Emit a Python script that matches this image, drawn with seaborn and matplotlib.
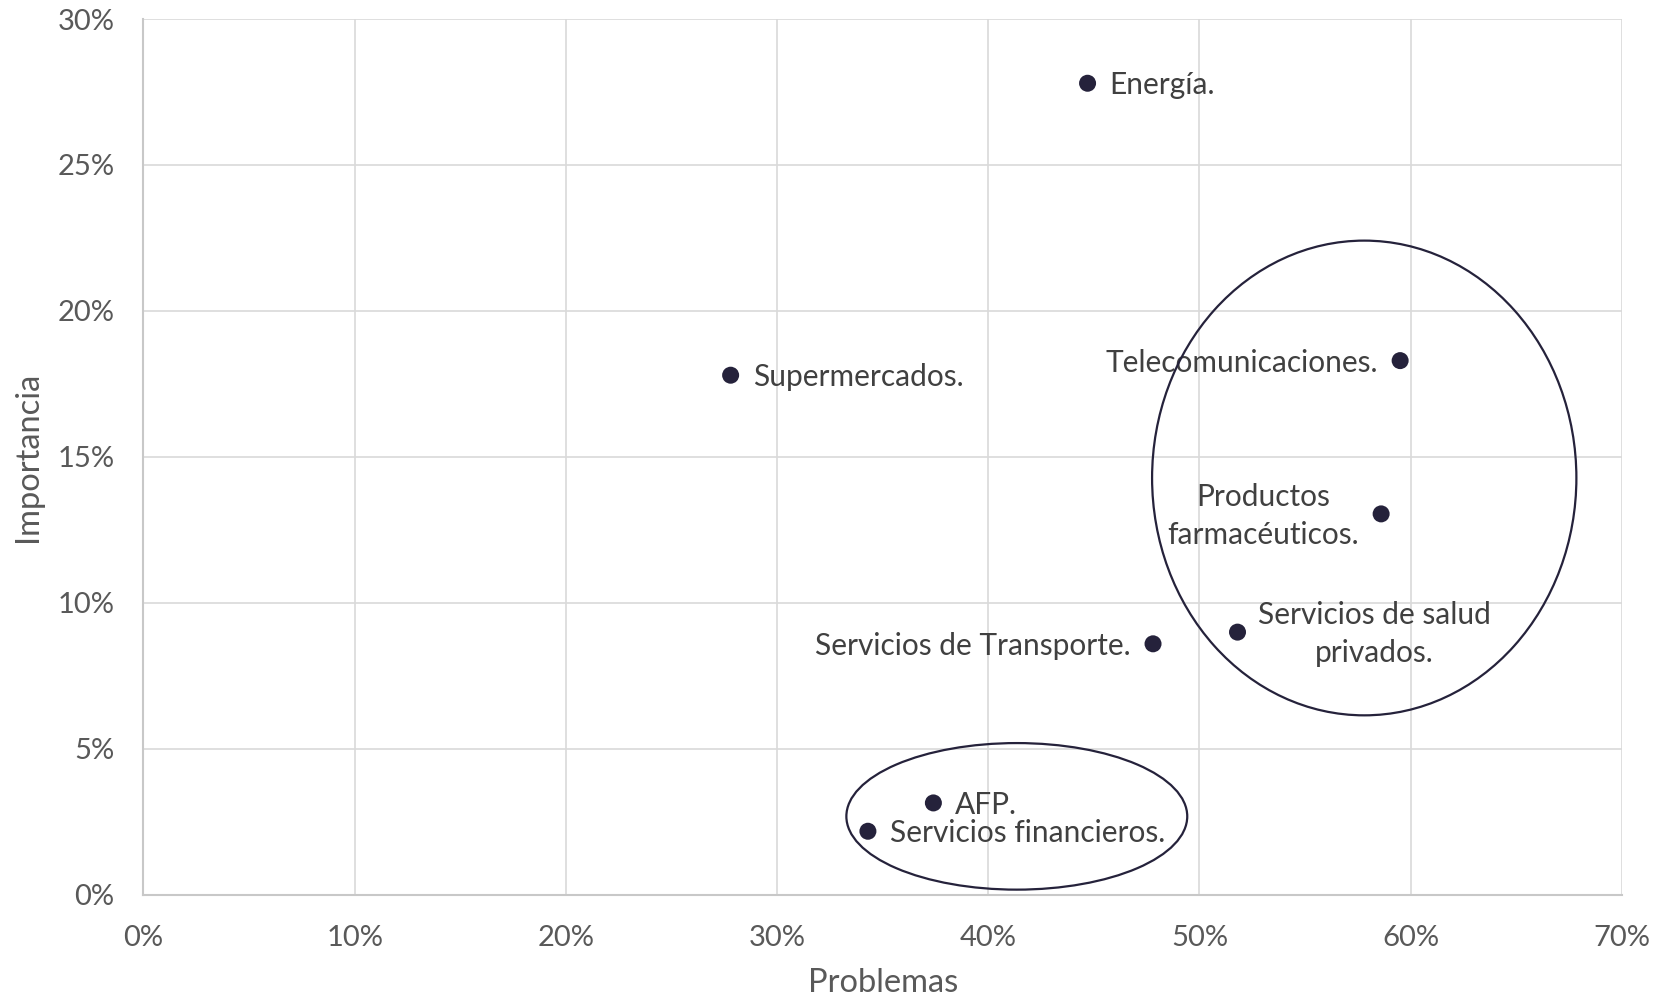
import matplotlib
matplotlib.use("Agg")
import matplotlib.pyplot as plt
import seaborn as sns
import pandas as pd
from matplotlib.patches import Ellipse
from matplotlib.ticker import PercentFormatter, MultipleLocator

# ---- data ----
sectores = ["Energía.", "Supermercados.", "Telecomunicaciones.",
            "Productos\nfarmacéuticos.", "Servicios de salud\nprivados.",
            "Servicios de Transporte.", "AFP.", "Servicios financieros."]
problemas = [0.447, 0.278, 0.595, 0.586, 0.518, 0.478, 0.374, 0.343]
importancia = [0.278, 0.178, 0.183, 0.1305, 0.090, 0.086, 0.0315, 0.0218]

x_label = "Problemas"
y_label = "Importancia"

# label placement (pixel offsets, alignment)
label_offsets = [(22, -2), (22, -2), (-22, -2), (-118, -2), (137, -2),
                 (-22, -2), (22, -2), (22, -2)]
label_ha = ["left", "left", "right", "center", "center", "right", "left", "left"]

# grouping ellipses: (center_x, center_y, width, height)
ellipses = [(0.578, 0.1428, 0.2009, 0.1626),
            (0.4135, 0.0269, 0.1614, 0.0502)]

df = pd.DataFrame({"Sector": sectores, "Problemas": problemas,
                   "Importancia": importancia})

sns.set_style("white")
plt.rcParams["font.family"] = ["Lato", "DejaVu Sans"]

fig = plt.figure(figsize=(16.55, 10.01), dpi=100)
ax = fig.add_axes([0.0867, 0.106, 0.8933, 0.875])

dot_color = "#25223b"
sns.scatterplot(data=df, x="Problemas", y="Importancia", ax=ax,
                color=dot_color, s=150, edgecolor="none", zorder=3)

for name, xv, yv, off, ha in zip(sectores, problemas, importancia,
                                 label_offsets, label_ha):
    ax.annotate(name, (xv, yv), xytext=off, textcoords="offset pixels",
                ha=ha, va="center", ma="center", fontsize=21.5,
                linespacing=1.45, color="#404040", zorder=4)

for cx, cy, w, h in ellipses:
    ax.add_patch(Ellipse((cx, cy), w, h, fill=False, edgecolor=dot_color,
                         linewidth=1.6, zorder=5))

ax.set_xlim(0, 0.70)
ax.set_ylim(0, 0.30)
ax.xaxis.set_major_locator(MultipleLocator(0.10))
ax.yaxis.set_major_locator(MultipleLocator(0.05))
ax.xaxis.set_major_formatter(PercentFormatter(1.0, decimals=0))
ax.yaxis.set_major_formatter(PercentFormatter(1.0, decimals=0))

ax.grid(True, color="#d9d9d9", linewidth=1.2)
ax.set_axisbelow(True)
for side in ["top", "right"]:
    ax.spines[side].set_visible(False)
for side in ["left", "bottom"]:
    ax.spines[side].set_color("#c8c8c8")
    ax.spines[side].set_linewidth(1.5)

ax.tick_params(axis="both", length=0, labelsize=21, labelcolor="#595959")
ax.tick_params(axis="x", pad=22)
ax.tick_params(axis="y", pad=21)

ax.set_xlabel(x_label, fontsize=23.5, color="#595959", labelpad=12)
ax.set_ylabel(y_label, fontsize=23.5, color="#595959", labelpad=10)

fig.savefig("out.png", dpi=100, facecolor="white")
